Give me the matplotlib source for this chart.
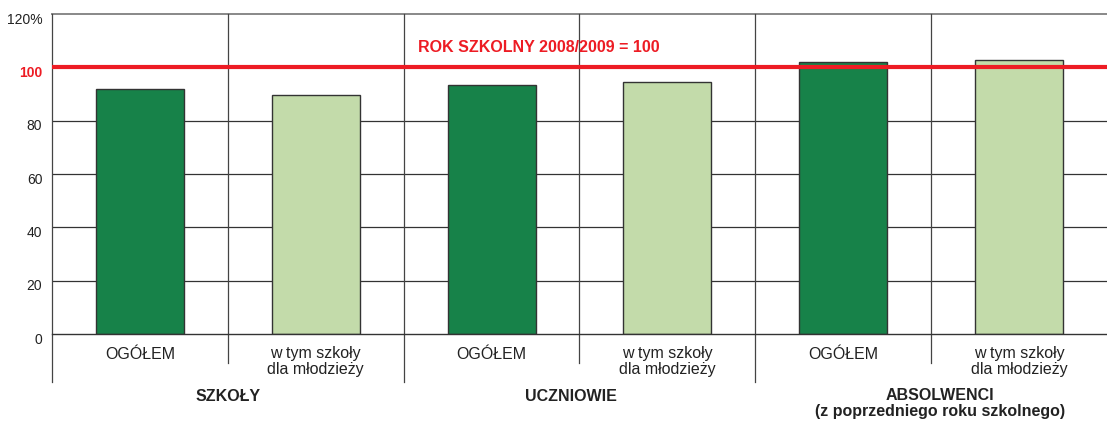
import matplotlib.pyplot as plt
import matplotlib.transforms as mtransforms

plt.rcParams['font.family'] = ['Liberation Sans', 'DejaVu Sans']

# data
categories = ['OGÓŁEM', 'w tym szkoły\ndla młodzieży',
              'OGÓŁEM', 'w tym szkoły\ndla młodzieży',
              'OGÓŁEM', 'w tym szkoły\ndla młodzieży']
values = [91.9, 89.7, 93.4, 94.5, 101.9, 102.9]
groups = ['SZKOŁY', 'UCZNIOWIE', 'ABSOLWENCI\n(z poprzedniego roku szkolnego)']
yticks = [0, 20, 40, 60, 80, 100, 120]
ytick_labels = ['0', '20', '40', '60', '80', '100', '120%']
base_label = 'ROK SZKOLNY 2008/2009 = 100'

dark = '#178249'
light = '#C3DBAA'
red = '#ED1C24'
colors = [dark, light] * 3

fig = plt.figure(figsize=(11.07, 4.23), dpi=100)
ax = fig.add_axes([52 / 1107, 1 - 334 / 423, 1 - 52 / 1107, 320 / 423])

x = list(range(len(values)))
ax.bar(x, values, width=0.5, color=colors, edgecolor='#333333', linewidth=1, zorder=3)

ax.set_xlim(-0.5, len(values) - 0.5)
ax.set_ylim(0, 120)

# horizontal grid
for y in yticks[1:-1]:
    ax.axhline(y, color='#333333', linewidth=0.9, zorder=1)
ax.axhline(120, color='#888888', linewidth=1.4, zorder=1, clip_on=False)
ax.axhline(0, color='#333333', linewidth=1.0, zorder=4, clip_on=False)

# vertical dividers, extending below the axis
for i in range(len(values)):
    xd = i - 0.5
    bottom = -0.15 if i % 2 == 0 else -0.09
    ax.plot([xd, xd], [bottom, 1], transform=ax.get_xaxis_transform(),
            color='#444444', linewidth=0.9, clip_on=False, zorder=2)

# reference line
ax.axhline(100, color=red, linewidth=3, zorder=5)
ax.text(1.58, 104.5, base_label, color=red, fontsize=11.5, fontweight='bold',
        ha='left', va='bottom', zorder=6)

for s in ax.spines.values():
    s.set_visible(False)

ax.set_xticks([])
ax.set_yticks(yticks)
ax.set_yticklabels(ytick_labels, fontsize=10, color='#222222')
ax.tick_params(axis='y', length=0, pad=7)
offset = mtransforms.ScaledTranslation(0, -4 / 100, fig.dpi_scale_trans)
for lab in ax.get_yticklabels():
    lab.set_transform(lab.get_transform() + offset)
    if lab.get_text() == '100':
        lab.set_color(red)
        lab.set_fontweight('bold')

xt = ax.get_xaxis_transform()

# category labels
for i, c in enumerate(categories):
    yc = -0.0859 if '\n' in c else -0.0656
    ax.text(i, yc, c, transform=xt, ha='center', va='center',
            fontsize=11.5, color='#222222', linespacing=1.15)

# group labels
group_x = [0.5, 2.45, 4.55]
for gx, name in zip(group_x, groups):
    yc = -0.218 if '\n' in name else -0.195
    ax.text(gx, yc, name, transform=xt, ha='center', va='center',
            fontsize=11.5, fontweight='bold', color='#222222', linespacing=1.1)

fig.savefig('out.png', dpi=100)
